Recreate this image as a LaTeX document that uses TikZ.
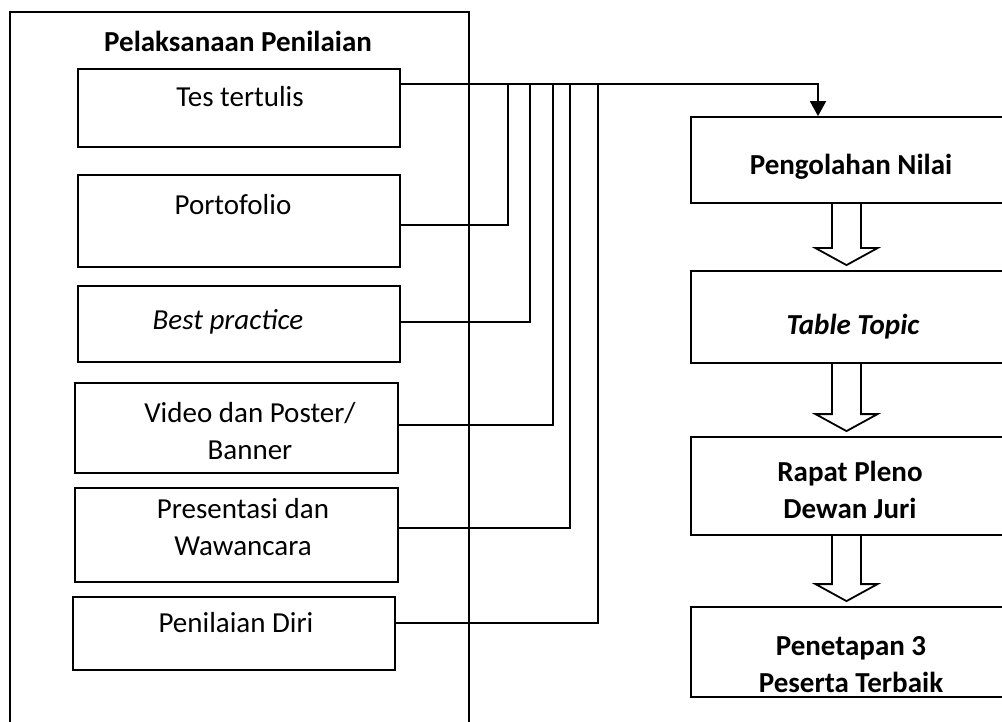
\documentclass[tikz,border=0pt]{standalone}
\usepackage{fontspec}
\setmainfont{Carlito}
\usetikzlibrary{arrows.meta,calc}

\begin{document}
\begin{tikzpicture}[x=1pt, y=-1pt, line width=1.8pt,
	every node/.style={font=\fontsize{29}{37}\selectfont, align=center, inner sep=0pt},
	box/.style={draw, line width=1.8pt},
	link/.style={line width=1.8pt},
	blockarrow/.style={line width=1.8pt, line join=miter}]
	\useasboundingbox (0,0) rectangle (1002,722);
	\clip (0,0) rectangle (1002,722);
	% left frame
	\draw (10,12) rectangle (469,740);
	\node (judul) at (238,41) {\bfseries Pelaksanaan Penilaian};
	\node[box, minimum width=322pt, minimum height=78pt] (tes) at (239,108) {};
	\node (tesT) at (240,97) {Tes tertulis};
	\node[box, minimum width=322pt, minimum height=92pt] (por) at (239,221) {};
	\node (porT) at (233,205) {Portofolio};
	\node[box, minimum width=322pt, minimum height=76pt] (best) at (239,324) {};
	\node (bestT) at (228,322) {\itshape Best practice};
	\node[box, minimum width=323pt, minimum height=90pt] (video) at (236.5,428) {};
	\node (videoT) at (250,431) {Video dan Poster/\\Banner};
	\node[box, minimum width=323pt, minimum height=94pt] (pres) at (236.5,535) {};
	\node (presT) at (243,527) {Presentasi dan\\Wawancara};
	\node[box, minimum width=322pt, minimum height=73pt] (diri) at (234,633.5) {};
	\node (diriT) at (236,623) {Penilaian Diri};
	% right column
	\node[box, minimum width=321pt, minimum height=86pt] (olah) at (851.5,160) {};
	\node (olahT) at (851,167) {\bfseries Pengolahan Nilai};
	\node[box, minimum width=321pt, minimum height=92pt] (topic) at (851.5,317) {};
	\node (topicT) at (853,327) {\bfseries\itshape Table Topic};
	\node[box, minimum width=321pt, minimum height=98pt] (rapat) at (851.5,486) {};
	\node (rapatT) at (850,490) {\bfseries Rapat Pleno\\\bfseries Dewan Juri};
	\node[box, minimum width=321pt, minimum height=90pt] (tetap) at (851.5,652) {};
	\node (tetapT) at (851,665) {\bfseries Penetapan 3\\\bfseries Peserta Terbaik};
	% collecting line
	\coordinate (drop) at (818,84);
	\draw[link, -{Triangle[length=15pt, width=16pt]}] (tes.east |- drop) -- (drop) -- (drop |- olah.north);
	\foreach \n/\x/\y in {por/508/225, best/530/322, video/553/425, pres/570/528, diri/598/623}
		\draw[link] (\n.east |- 0,\y) -| (\x,84);
	% hollow arrows
	\foreach \a/\b in {olah/topic, topic/rapat, rapat/tetap} {
		\draw[blockarrow] let \p1=(\a.south -| 846.5,0), \p2=(\b.north) in
			(\x1-14.5pt,\y1) -- (\x1-14.5pt,\y2+22pt) -- (\x1-31pt,\y2+22pt) -- (\x1,\y2+5pt)
			-- (\x1+31pt,\y2+22pt) -- (\x1+14.5pt,\y2+22pt) -- (\x1+14.5pt,\y1);
	}
\end{tikzpicture}
\end{document}
